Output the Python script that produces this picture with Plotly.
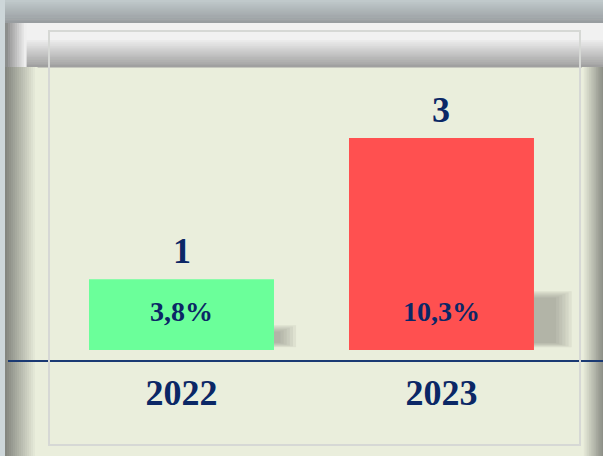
import plotly.graph_objects as go

# ---- data ----
years = ["2022", "2023"]
values = [1, 3]
shares = ["3,8%", "10,3%"]
bar_colors = ["#6BFF9A", "#FF5050"]

# ---- style ----
W, H = 603, 456
NAVY = "#0B2766"
AXIS = "#1B3A73"
BG = "#EAEEDC"
FONT = "Liberation Serif, Times New Roman, serif"
BAR_W = 0.7115
X_RANGE = [-0.6673, 1.6212]
Y_RANGE = [-0.1414, 4.950]
SHARE_Y = 0.55


def px(x):
    return x / W


def py(y):
    return 1 - y / H


def hx(c):
    c = c.lstrip("#")
    return [int(c[i:i + 2], 16) for i in (0, 2, 4)]


def mix(c0, c1, t):
    a, b = hx(c0), hx(c1)
    return "#" + "".join(f"{round(a[i] + (b[i] - a[i]) * t):02x}" for i in range(3))


shapes = []


def rect(x0, x1, y0, y1, color, layer="below"):
    shapes.append(dict(type="rect", xref="paper", yref="paper",
                       x0=px(x0), x1=px(x1), y0=py(y1), y1=py(y0),
                       fillcolor=color, line_width=0, layer=layer))


def grad(x0, x1, y0, y1, c0, c1, n, vertical=True):
    for k in range(n):
        t = k / (n - 1) if n > 1 else 0
        if vertical:
            ya = y0 + (y1 - y0) * k / n
            yb = y0 + (y1 - y0) * (k + 1) / n + 0.6
            rect(x0, x1, ya, yb, mix(c0, c1, t))
        else:
            xa = x0 + (x1 - x0) * k / n
            xb = x0 + (x1 - x0) * (k + 1) / n + 0.6
            rect(xa, xb, y0, y1, mix(c0, c1, t))


# window-like decoration
grad(0, W, 0, 23, "#C0C9CB", "#989DA0", 12)
rect(0, W, 23, 38, "#F1F1F1")
grad(0, W, 38, 67, "#F1F1F1", "#A0A0A0", 15)
grad(8, 26, 23, 67, "#9A9A9A", "#EEEEEE", 8, vertical=False)
rect(5, 8, 23, 72, "#8C8E8C")
grad(5, 37, 67, H, "#84867F", BG, 16, vertical=False)
grad(582, W, 67, H, BG, "#8E9088", 12, vertical=False)
rect(0, 5, 0, H, "#CDD6D9")

# soft shadows beside bars (data coordinates, derived from values)
for i, v in enumerate(values):
    xr = i + BAR_W / 2
    sw = 0.03 * v + 0.055
    sh = 0.24 * v + 0.07
    for k in range(6):
        shrink = k * 0.012
        shapes.append(dict(type="rect", xref="x", yref="y",
                           x0=xr, x1=xr + sw - shrink,
                           y0=0.04 + shrink, y1=0.04 + sh - shrink * 1.5,
                           fillcolor="#7D8273", opacity=0.11,
                           line_width=0, layer="below"))

# inner frame
shapes.append(dict(type="rect", xref="paper", yref="paper",
                   x0=px(49), x1=px(580), y0=py(445), y1=py(31),
                   line=dict(color="#D6D8D5", width=2),
                   fillcolor="rgba(0,0,0,0)", layer="above"))

fig = go.Figure()
fig.add_trace(go.Bar(
    x=years, y=values, width=BAR_W,
    marker=dict(color=bar_colors, line_width=0),
    hoverinfo="skip",
))

annotations = []
for i, (v, s) in enumerate(zip(values, shares)):
    annotations.append(dict(
        x=i, y=v, xref="x", yref="y", text=str(v), showarrow=False,
        font=dict(family=FONT, size=36, color=NAVY, weight="bold"),
        xanchor="center", yanchor="middle", yshift=28))
    annotations.append(dict(
        x=i, y=SHARE_Y, xref="x", yref="y", text=s, showarrow=False,
        font=dict(family=FONT, size=28, color=NAVY, weight="bold"),
        xanchor="center", yanchor="middle"))

fig.update_layout(
    width=W, height=H,
    margin=dict(l=0, r=0, t=0, b=0),
    paper_bgcolor=BG, plot_bgcolor="rgba(0,0,0,0)",
    showlegend=False,
    shapes=shapes,
    annotations=annotations,
    xaxis=dict(type="category", domain=[8 / W, 1], range=X_RANGE,
               showline=True, linecolor=AXIS, linewidth=2,
               showgrid=False, zeroline=False, ticks="",
               tickfont=dict(family=FONT, size=36, color=NAVY, weight="bold"),
               fixedrange=True),
    yaxis=dict(domain=[96 / H, 1], range=Y_RANGE, visible=False,
               fixedrange=True),
)

fig.write_html("out.html", config={"displayModeBar": False},
               post_script="document.body.style.margin='0';"
                           "document.body.style.overflow='hidden';")
